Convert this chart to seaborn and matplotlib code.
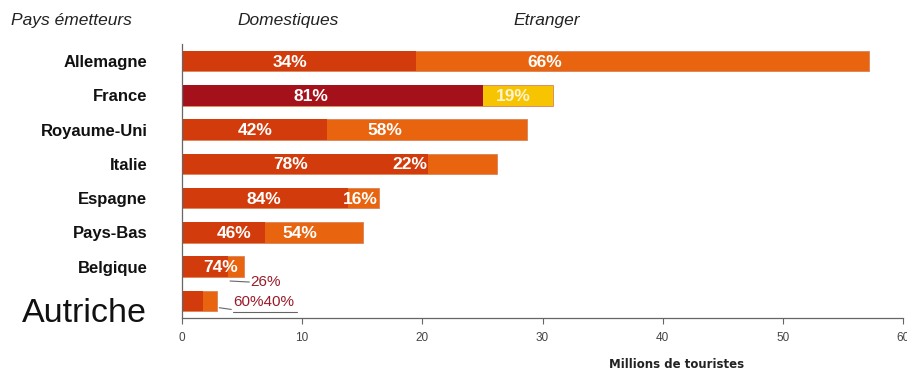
import matplotlib
matplotlib.use("Agg")
import matplotlib.pyplot as plt
import seaborn as sns
import pandas as pd
import numpy as np

# ---- data ----
countries = ["Allemagne", "France", "Royaume-Uni", "Italie", "Espagne",
             "Pays-Bas", "Belgique", "Autriche"]
totals = [57.2, 30.9, 28.7, 26.2, 16.4, 15.1, 5.2, 2.9]          # millions
domestic_pct = [34, 81, 42, 78, 84, 46, 74, 60]
foreign_pct = [66, 19, 58, 22, 16, 54, 26, 40]
x_ticks = [0, 10, 20, 30, 40, 50, 60]

domestic = [t * p / 100 for t, p in zip(totals, domestic_pct)]
df = pd.DataFrame({"pays": countries, "total": totals, "domestique": domestic})

# ---- styles ----
C_DOM = "#D23C0C"
C_FOR = "#E8640F"
C_FR_DOM = "#A5111A"
C_FR_FOR = "#F6C400"
DARK_LBL = "#9B1B2A"
LINE = "#666666"

pal_total = {c: (C_FR_FOR if c == "France" else C_FOR) for c in countries}
pal_dom = {c: (C_FR_DOM if c == "France" else C_DOM) for c in countries}

sns.set_theme(style="white")
plt.rcParams["font.family"] = ["Liberation Sans", "DejaVu Sans"]

fig = plt.figure(figsize=(9.07, 3.71), dpi=100)
ax = fig.add_axes([182 / 907, 53 / 371, 721 / 907, 274 / 371])

sns.barplot(data=df, y="pays", x="total", hue="pays", palette=pal_total,
            orient="h", width=0.6, dodge=False, legend=False, ax=ax,
            saturation=1, edgecolor="#d9825a", linewidth=0.6)
sns.barplot(data=df, y="pays", x="domestique", hue="pays", palette=pal_dom,
            orient="h", width=0.6, dodge=False, legend=False, ax=ax,
            saturation=1, linewidth=0)

ax.set_xlim(0, 60)
ax.set_ylim(7.5, -0.5)
ax.set_xticks(x_ticks)
ax.set_xticklabels([str(v) for v in x_ticks], fontsize=8.5, color="#444444")
ax.set_ylabel("")
ax.set_xlabel("")

# y tick labels (Autriche drawn separately, larger and lower)
ax.set_yticks(range(len(countries)))
ax.set_yticklabels([c if c != "Autriche" else "" for c in countries],
                   fontsize=12, fontweight="bold", color="#111111")
ax.text(-35 / 721 * 60, len(countries) - 1 + 0.36, countries[-1], ha="right",
        va="center", fontsize=24.5, color="#111111", clip_on=False)
ax.tick_params(axis="y", which="major", length=0, pad=25)
ax.set_yticks(np.arange(-0.5, len(countries), 1), minor=True)
ax.tick_params(axis="y", which="minor", length=5, width=0.8, color=LINE, direction="out")
ax.tick_params(axis="x", which="major", length=4, width=0.8, color=LINE, pad=6, bottom=True)

for s in ["top", "right"]:
    ax.spines[s].set_visible(False)
for s in ["left", "bottom"]:
    ax.spines[s].set_color(LINE)
    ax.spines[s].set_linewidth(0.9)

# percent labels inside bars (x positions in data units, layout only)
dom_lbl_x = [9.0, 10.7, 6.1, 9.0, 6.8, 4.3, 3.2]
for_lbl_x = [30.2, 27.6, 16.9, 19.0, 14.8, 9.8]
for i in range(7):
    ax.text(dom_lbl_x[i], i + 0.03, f"{domestic_pct[i]}%", ha="center", va="center",
            color="white", fontsize=12.5, fontweight="bold")
for i in range(6):
    ax.text(for_lbl_x[i], i + 0.03, f"{foreign_pct[i]}%", ha="center", va="center",
            color="#FFF3D0" if countries[i] == "France" else "white",
            fontsize=12.5, fontweight="bold")

# outside labels with leader lines
ax.text(5.7, 6.45, f"{foreign_pct[6]}%", ha="left", va="center", fontsize=11,
        color=DARK_LBL)
ax.plot([4.0, 5.6], [6.42, 6.45], color=LINE, lw=0.8)
ax.text(4.25, 7.03, f"{domestic_pct[7]}%{foreign_pct[7]}%", ha="left", va="center",
        fontsize=11, color=DARK_LBL)
ax.plot([3.1, 4.1], [7.2, 7.25], color=LINE, lw=0.8)
ax.plot([4.25, 9.6], [7.32, 7.32], color=LINE, lw=0.8)

# headers
hdr = dict(fontsize=12.5, style="italic", color="#222222", va="center", ha="left")
fig.text(11 / 907, 1 - 20 / 371, "Pays émetteurs", **hdr)
fig.text(237 / 907, 1 - 20 / 371, "Domestiques", **hdr)
fig.text(513 / 907, 1 - 20 / 371, "Etranger", **hdr)
fig.text(677 / 907, 1 - 364 / 371, "Millions de touristes", fontsize=8.5,
         fontweight="bold", family=["DejaVu Sans"], color="#222222",
         ha="center", va="center")

fig.savefig("out.png", dpi=100, facecolor="white")
